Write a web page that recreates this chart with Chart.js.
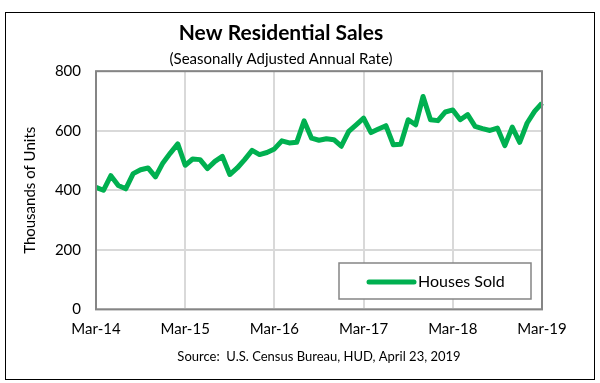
<!DOCTYPE html>
<html>
<head>
<meta charset="utf-8">
<script src="https://cdn.jsdelivr.net/npm/chart.js@4/dist/chart.umd.min.js"></script>
<style>
  html, body { margin: 0; padding: 0; background: #fff; }
  #wrap { position: relative; width: 600px; height: 383px; }
</style>
</head>
<body>
<div id="wrap"><canvas id="salesChart" width="600" height="383"></canvas></div>
<script>
const months = [
    'Mar-14','Apr-14','May-14','Jun-14','Jul-14','Aug-14','Sep-14','Oct-14','Nov-14','Dec-14',
    'Jan-15','Feb-15','Mar-15','Apr-15','May-15','Jun-15','Jul-15','Aug-15','Sep-15','Oct-15','Nov-15','Dec-15',
    'Jan-16','Feb-16','Mar-16','Apr-16','May-16','Jun-16','Jul-16','Aug-16','Sep-16','Oct-16','Nov-16','Dec-16',
    'Jan-17','Feb-17','Mar-17','Apr-17','May-17','Jun-17','Jul-17','Aug-17','Sep-17','Oct-17','Nov-17','Dec-17',
    'Jan-18','Feb-18','Mar-18','Apr-18','May-18','Jun-18','Jul-18','Aug-18','Sep-18','Oct-18','Nov-18','Dec-18',
    'Jan-19','Feb-19','Mar-19'
];

// new home sales, thousands of units (SAAR)
const housesSold = [
    410, 400, 449, 416, 405, 456, 469, 475, 445, 492,
    525, 556, 484, 505, 503, 473, 497, 514, 453, 475, 503, 534,
    520, 527, 539, 566, 559, 561, 633, 575, 568, 573, 570, 548,
    598, 620, 642, 594, 606, 617, 553, 555, 637, 620, 715, 637,
    634, 663, 670, 637, 654, 615, 607, 601, 609, 550, 612, 561,
    626, 665, 693
];

const yTicks = [0, 200, 400, 600, 800];

const FONT = 'Lato, "Open Sans", sans-serif';

// outer frame + white background
const frame = {
    id: 'frame',
    beforeDraw(chart) {
        const c = chart.ctx;
        c.save();
        c.fillStyle = '#fff';
        c.fillRect(0, 0, chart.width, chart.height);
        c.strokeStyle = '#000';
        c.lineWidth = 1;
        c.strokeRect(5.5, 12.5, 589, 367);
        c.restore();
    },
    afterDatasetsDraw(chart) {
        const a = chart.chartArea;
        const c = chart.ctx;
        c.save();
        c.strokeStyle = '#858585';
        c.lineWidth = 2;
        c.strokeRect(a.left, a.top, a.right - a.left, a.bottom - a.top);
        c.restore();
    }
};

// legend box sitting inside the plot
const insideLegend = {
    id: 'insideLegend',
    afterDraw(chart) {
        const ds = chart.data.datasets[0];
        const c = chart.ctx;
        c.save();
        c.fillStyle = '#fff';
        c.fillRect(339, 263, 192, 36);
        c.strokeStyle = '#858585';
        c.lineWidth = 1.5;
        c.strokeRect(339, 263, 192, 36);
        c.strokeStyle = ds.borderColor;
        c.lineWidth = 5;
        c.lineCap = 'round';
        c.beginPath();
        c.moveTo(369, 282);
        c.lineTo(414, 282);
        c.stroke();
        c.fillStyle = '#000';
        c.font = '16px ' + FONT;
        c.textBaseline = 'middle';
        c.fillText(ds.label, 418, 282);
        c.restore();
    }
};

new Chart(document.getElementById('salesChart'), {
    type: 'line',
    data: {
        labels: months,
        datasets: [{
            label: 'Houses Sold',
            data: housesSold,
            borderColor: '#00b050',
            borderWidth: 5,
            borderJoinStyle: 'round',
            pointRadius: 0,
            tension: 0,
            fill: false
        }]
    },
    options: {
        responsive: false,
        animation: false,
        layout: { padding: { top: 12, left: 20, right: 58, bottom: 18 } },
        scales: {
            x: {
                grid: { color: '#d9d9d9', lineWidth: 2, drawTicks: false },
                border: { display: false },
                ticks: {
                    autoSkip: false,
                    maxRotation: 0,
                    padding: 11,
                    color: '#000',
                    font: { family: FONT, size: 15 },
                    callback: function(v, i) {
                        return i % 12 === 0 ? months[i] : null;
                    }
                },
                title: {
                    display: true,
                    text: 'Source:  U.S. Census Bureau, HUD, April 23, 2019',
                    color: '#000',
                    font: { family: FONT, size: 13 },
                    padding: { top: 0, bottom: 0 }
                }
            },
            y: {
                min: 0,
                max: 800,
                afterBuildTicks: (scale) => { scale.ticks = yTicks.map(v => ({ value: v })); },
                afterFit: (scale) => { scale.width = 76; },
                grid: { color: '#d9d9d9', lineWidth: 2, drawTicks: false },
                border: { display: false },
                ticks: {
                    padding: 15,
                    color: '#000',
                    font: { family: FONT, size: 15 }
                },
                title: {
                    display: true,
                    text: 'Thousands of Units',
                    color: '#000',
                    font: { family: FONT, size: 15 },
                    padding: { top: 1, bottom: 0 }
                }
            }
        },
        plugins: {
            legend: { display: false },
            tooltip: { enabled: false },
            title: {
                display: true,
                text: 'New Residential Sales',
                color: '#000',
                font: { family: FONT, size: 21, weight: 'bold' },
                padding: { top: 9, bottom: 4 }
            },
            subtitle: {
                display: true,
                text: '(Seasonally Adjusted Annual Rate)',
                color: '#000',
                font: { family: FONT, size: 15 },
                padding: { top: 0, bottom: 3 }
            }
        }
    },
    plugins: [frame, insideLegend]
});
</script>
</body>
</html>
